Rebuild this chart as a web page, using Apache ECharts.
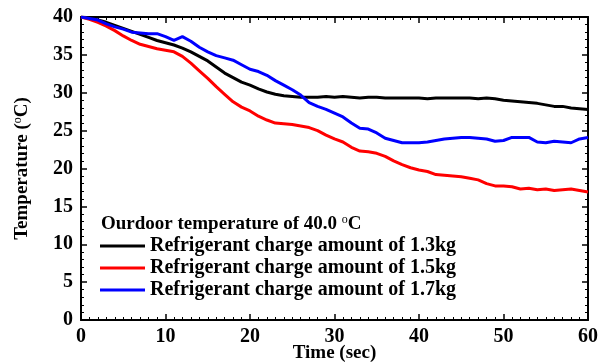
<!DOCTYPE html>
<html><head><meta charset="utf-8">
<script src="https://cdn.jsdelivr.net/npm/echarts@6/dist/echarts.min.js"></script>
<style>html,body{margin:0;padding:0;background:#fff}#c{width:608px;height:364px}</style>
</head><body><div id="c"></div>
<script>
var times = [];
for (var i = 0; i <= 60; i++) times.push(i);
var seriesNames = ['Refrigerant charge amount of 1.3kg','Refrigerant charge amount of 1.5kg','Refrigerant charge amount of 1.7kg'];
var charge13 = [40.0,39.9,39.6,39.3,38.9,38.5,38.1,37.7,37.3,36.9,36.6,36.3,35.9,35.4,34.8,34.2,33.4,32.6,32.0,31.4,31.0,30.5,30.1,29.8,29.6,29.5,29.4,29.4,29.4,29.5,29.4,29.5,29.4,29.3,29.4,29.4,29.3,29.3,29.3,29.3,29.3,29.2,29.3,29.3,29.3,29.3,29.3,29.2,29.3,29.2,29.0,28.9,28.8,28.7,28.6,28.4,28.2,28.2,28.0,27.9,27.8];
var charge15 = [40.0,39.7,39.3,38.8,38.2,37.5,36.9,36.4,36.1,35.8,35.6,35.4,34.8,33.9,32.9,31.9,30.8,29.8,28.8,28.1,27.6,26.9,26.4,26.0,25.9,25.8,25.6,25.4,25.0,24.4,23.9,23.5,22.8,22.3,22.2,22.0,21.6,21.0,20.5,20.1,19.8,19.6,19.2,19.1,19.0,18.9,18.7,18.5,18.0,17.7,17.7,17.6,17.3,17.4,17.2,17.3,17.1,17.2,17.3,17.1,16.9];
var charge17 = [40.0,39.8,39.6,39.1,38.7,38.4,38.0,37.9,37.8,37.8,37.4,36.9,37.4,36.8,36.0,35.4,34.9,34.6,34.3,33.7,33.1,32.8,32.3,31.6,31.0,30.4,29.7,28.7,28.2,27.8,27.3,26.8,26.0,25.3,25.2,24.7,24.0,23.7,23.4,23.4,23.4,23.5,23.7,23.9,24.0,24.1,24.1,24.0,23.9,23.6,23.7,24.1,24.1,24.1,23.5,23.4,23.6,23.5,23.4,23.9,24.1];
var colors = ['#000000','#ff0000','#0000ff'];
var xTicks = {min:0, max:60, interval:10};
var yTicks = {min:0, max:40, interval:5};

function pairs(arr){ return arr.map(function(v,i){ return [times[i], v]; }); }
var font = 'Liberation Serif';
var axisBase = function(){
  return {
    axisLine:{show:true, onZero:false, lineStyle:{color:'#000', width:2}},
    axisTick:{show:true, inside:true, length:6, lineStyle:{color:'#000', width:1.5}},
    minorTick:{show:true, length:3, lineStyle:{color:'#000', width:1}},
    splitLine:{show:false}
  };
};
var chart = echarts.init(document.getElementById('c'), null, {renderer:'canvas'});
var xMain = Object.assign(axisBase(), {
  type:'value', min:xTicks.min, max:xTicks.max, interval:xTicks.interval, position:'bottom',
  name:'Time (sec)', nameLocation:'middle', nameGap:24, nameMoveOverlap:false,
  nameTextStyle:{fontFamily:font, fontWeight:'bold', fontSize:19, color:'#000'},
  axisLabel:{margin:7, fontFamily:font, fontWeight:'bold', fontSize:20, color:'#000'}
});
xMain.minorTick.splitNumber = 10;
var xTop = Object.assign(axisBase(), {type:'value', min:xTicks.min, max:xTicks.max, interval:xTicks.interval, position:'top', axisLabel:{show:false}});
xTop.minorTick.splitNumber = 10;
var yMain = Object.assign(axisBase(), {
  type:'value', min:yTicks.min, max:yTicks.max, interval:yTicks.interval, position:'left',
  name:'Temperature ({sup|o}C)', nameLocation:'middle', nameGap:48, nameMoveOverlap:false,
  nameTextStyle:{fontFamily:font, fontWeight:'bold', fontSize:19, color:'#000',
    rich:{sup:{fontFamily:font, fontWeight:'normal', fontSize:12, color:'#000', padding:[0,0,9,0]}}},
  axisLabel:{margin:8, fontFamily:font, fontWeight:'bold', fontSize:20, color:'#000'}
});
yMain.minorTick.splitNumber = 5;
var yRight = Object.assign(axisBase(), {type:'value', min:yTicks.min, max:yTicks.max, interval:yTicks.interval, position:'right', axisLabel:{show:false}});
yRight.minorTick.splitNumber = 5;

chart.setOption({
  animation:false,
  backgroundColor:'#fff',
  color:colors,
  title:{
    text:'Ourdoor temperature of 40.0 {sup|o}C', left:96, top:209,
    textStyle:{fontFamily:font, fontWeight:'bold', fontSize:19, color:'#000',
      rich:{sup:{fontFamily:font, fontWeight:'normal', fontSize:12, color:'#000', padding:[0,0,9,0]}}}
  },
  legend:{
    orient:'vertical', left:100, top:236, padding:0, itemWidth:45, itemHeight:3, itemGap:2, icon:'rect',
    data:seriesNames,
    textStyle:{fontFamily:font, fontWeight:'bold', fontSize:20, lineHeight:20, color:'#000'}
  },
  grid:{left:81, right:20, top:17, bottom:44, outerBoundsMode:'none'},
  xAxis:[xMain, xTop],
  yAxis:[yMain, yRight],
  series:[
    {name:seriesNames[0], type:'line', data:pairs(charge13), symbol:'none', lineStyle:{width:3, color:colors[0]}},
    {name:seriesNames[1], type:'line', data:pairs(charge15), symbol:'none', lineStyle:{width:3, color:colors[1]}},
    {name:seriesNames[2], type:'line', data:pairs(charge17), symbol:'none', lineStyle:{width:3, color:colors[2]}}
  ]
});
</script></body></html>
